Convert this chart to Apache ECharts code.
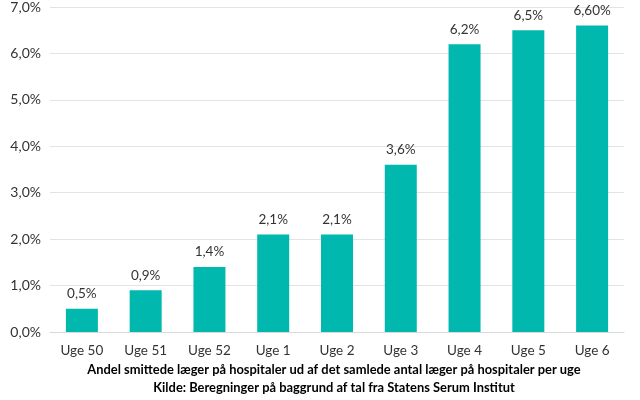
<!DOCTYPE html>
<html><head><meta charset="utf-8">
<script src="https://cdn.jsdelivr.net/npm/echarts@6/dist/echarts.min.js"></script>
<style>html,body{margin:0;padding:0;background:#fff}#c{width:640px;height:400px}</style>
</head><body><div id="c"></div>
<script>
const categories = ['Uge 50','Uge 51','Uge 52','Uge 1','Uge 2','Uge 3','Uge 4','Uge 5','Uge 6'];
const values = [0.5,0.9,1.4,2.1,2.1,3.6,6.2,6.5,6.6];
const valueLabels = ['0,5%','0,9%','1,4%','2,1%','2,1%','3,6%','6,2%','6,5%','6,60%'];
const titleLines = ['Andel smittede læger på hospitaler ud af det samlede antal læger på hospitaler per uge','Kilde: Beregninger på baggrund af tal fra Statens Serum Institut'];
const font = 'Lato, "Open Sans", sans-serif';
const chart = echarts.init(document.getElementById('c'), null, {renderer:'canvas'});
chart.setOption({
  animation:false,
  textStyle:{fontFamily:font},
  graphic: titleLines.map((t,i)=>({type:'text', x:334, y:370+i*18,
    style:{text:t, align:'center', verticalAlign:'middle', fill:'#000',
      font:'bold 12.9px '+font}})),
  grid:{left:50, right:16, top:4, bottom:68, containLabel:false},
  xAxis:{type:'category', data:categories,
    axisLine:{lineStyle:{color:'#d9d9d9'}}, axisTick:{show:false},
    axisLabel:{color:'#333', fontSize:13.5, margin:12, fontFamily:font}},
  yAxis:{type:'value', min:0, max:7, interval:1,
    axisLine:{show:false}, axisTick:{show:false},
    splitLine:{lineStyle:{color:'#e3e3e3'}},
    axisLabel:{color:'#333', fontSize:14, margin:9, fontFamily:font,
      formatter:v=>v.toFixed(1).replace('.',',')+'%'}},
  series:[{type:'bar', data:values, barWidth:32, itemStyle:{color:'#00B8AE'},
    label:{show:true, position:'top', distance:8, color:'#333', fontSize:13.5, fontFamily:font,
      formatter:p=>valueLabels[p.dataIndex]}}]
});
</script></body></html>
